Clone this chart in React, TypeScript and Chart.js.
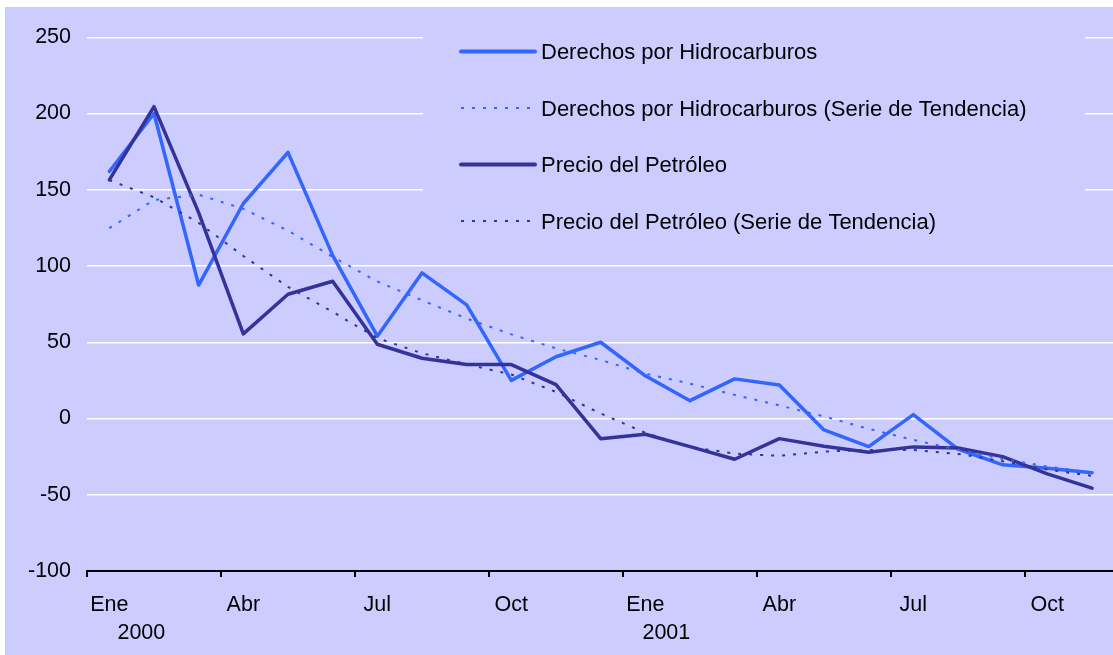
import React, { useEffect, useRef } from "react";
import { Chart, registerables } from "chart.js";

Chart.register(...registerables);

// ---------- data ----------
const monthNames = ["Ene", "Feb", "Mar", "Abr", "May", "Jun", "Jul", "Ago", "Sep", "Oct", "Nov", "Dic"];
const years = ["2000", "2001"];
const categories = years.flatMap((y) => monthNames.map((m) => `${m} ${y}`));

const seriesLabels = [
  "Derechos por Hidrocarburos",
  "Derechos por Hidrocarburos (Serie de Tendencia)",
  "Precio del Petróleo",
  "Precio del Petróleo (Serie de Tendencia)",
];

const derechos = [162, 200, 87.5, 141, 174.5, 107, 54, 95.5, 74.5, 25, 40.5, 50, 28, 11.7, 26, 22, -7.5, -18.4, 2.6, -20, -30.4, -32.6, -35.5, null];
const derechosTendencia = [124.8, 143.3, 146.8, 137.5, 123.2, 106, 89.9, 77.5, 65.6, 55.2, 46, 38.4, 29.4, 22.9, 15.5, 8.6, 1.4, -6.8, -14, -20.5, -26.5, -31.5, -35.5, null];
const precio = [156.5, 204.5, 135, 55.5, 81.5, 90, 48.7, 39.5, 35.4, 35.4, 22.2, -13.2, -10.3, -18.4, -26.7, -13.2, -18.2, -22.1, -18.6, -19.3, -25, -36.3, -45.7, null];
const precioTendencia = [156.4, 145.1, 128.3, 106.6, 86.3, 69.9, 52.7, 42.8, 35.5, 28.9, 17.4, 3.3, -9.4, -18.6, -23, -24.5, -21.7, -20.6, -20.6, -23.2, -28, -33.5, -37.6, null];

const yMin = -100;
const yMax = 250;
const yStep = 50;

// ---------- styles ----------
const BG = "#CCCCFF";
const BLUE = "#3366FF";
const NAVY = "#333399";
const FONT_FAMILY = '"Liberation Sans", Arial, Helvetica, sans-serif';
const FONT_SIZE = 21.5;
const FONT = `${FONT_SIZE}px ${FONT_FAMILY}`;
const LEGEND_FONT = `22px ${FONT_FAMILY}`;
const OX = 5; // canvas offset on page
const OY = 7;
const CANVAS_W = 1154;
const CANVAS_H = 648;
const yearOffsets = [32, 21];

const legendPlugin = {
  id: "boxLegend",
  beforeDatasetsDraw(chart: any) {
    const ctx = chart.ctx;
    ctx.save();
    ctx.fillStyle = BG;
    ctx.fillRect(423 - OX, 18 - OY, 1085 - 423, 245 - 18);
    ctx.restore();
  },
  afterDraw(chart: any) {
    const ctx = chart.ctx;
    chart.data.datasets.forEach((ds: any, i: number) => {
      const y = 51.5 - OY + i * 56.5;
      ctx.save();
      ctx.strokeStyle = ds.borderColor;
      const dashed = ds.borderDash && ds.borderDash.length;
      ctx.lineWidth = dashed ? 2 : 4;
      ctx.lineCap = dashed ? "butt" : "round";
      ctx.setLineDash(dashed ? ds.borderDash : []);
      ctx.beginPath();
      ctx.moveTo(461 - OX, y);
      ctx.lineTo(535 - OX, y);
      ctx.stroke();
      ctx.setLineDash([]);
      ctx.fillStyle = "#000";
      ctx.font = LEGEND_FONT;
      ctx.textAlign = "left";
      ctx.textBaseline = "alphabetic";
      ctx.fillText(ds.label, 541 - OX, y + 7.8);
      ctx.restore();
    });
  },
};

const xLabelPlugin = {
  id: "xLabels",
  afterDraw(chart: any) {
    const ctx = chart.ctx;
    const xs = chart.scales.x;
    ctx.save();
    ctx.fillStyle = "#000";
    ctx.font = FONT;
    ctx.textAlign = "center";
    ctx.textBaseline = "alphabetic";
    categories.forEach((_c, i) => {
      if (i % 3 !== 0) return;
      const x = xs.getPixelForValue(i);
      ctx.fillText(monthNames[i % 12], x, 611 - OY);
      if (i % 12 === 0) {
        const yi = i / 12;
        ctx.fillText(years[yi], x + yearOffsets[yi], 639 - OY);
      }
    });
    ctx.restore();
  },
};

export default function App() {
  const ref = useRef<HTMLCanvasElement>(null);

  useEffect(() => {
    if (!ref.current) return;
    const chart = new Chart(ref.current, {
      type: "line",
      data: {
        labels: categories,
        datasets: [
          {
            label: seriesLabels[0],
            data: derechos,
            borderColor: BLUE,
            backgroundColor: BLUE,
            borderWidth: 3.5,
            borderCapStyle: "round",
            borderJoinStyle: "round",
            pointRadius: 0,
            tension: 0,
            fill: false,
            order: 3,
          },
          {
            label: seriesLabels[1],
            data: derechosTendencia,
            borderColor: BLUE,
            backgroundColor: BLUE,
            borderWidth: 2,
            borderDash: [3, 8],
            pointRadius: 0,
            tension: 0,
            fill: false,
            order: 1,
          },
          {
            label: seriesLabels[2],
            data: precio,
            borderColor: NAVY,
            backgroundColor: NAVY,
            borderWidth: 3.5,
            borderCapStyle: "round",
            borderJoinStyle: "round",
            pointRadius: 0,
            tension: 0,
            fill: false,
            order: 2,
          },
          {
            label: seriesLabels[3],
            data: precioTendencia,
            borderColor: NAVY,
            backgroundColor: NAVY,
            borderWidth: 2,
            borderDash: [3, 8],
            pointRadius: 0,
            tension: 0,
            fill: false,
            order: 0,
          },
        ],
      },
      options: {
        animation: false,
        responsive: false,
        devicePixelRatio: 1,
        layout: { padding: { top: 37.3 - OY, right: 0, bottom: 0, left: 0 } },
        plugins: {
          legend: { display: false },
          tooltip: { enabled: false },
          title: { display: false },
        },
        scales: {
          x: {
            type: "category",
            offset: true,
            grid: {
              display: true,
              offset: true,
              drawOnChartArea: false,
              drawTicks: true,
              tickLength: 6,
              lineWidth: 2,
              color: (ctx: any) => (typeof ctx.index === "number" && ctx.index % 3 === 0 ? "#000" : "rgba(0,0,0,0)"),
            },
            border: { display: true, color: "#000", width: 2 },
            ticks: { display: false, autoSkip: false },
            afterFit: (scale: any) => {
              scale.height = CANVAS_H - (571 - OY);
            },
          },
          y: {
            min: yMin,
            max: yMax,
            ticks: {
              stepSize: yStep,
              color: "#000",
              font: { family: FONT_FAMILY, size: FONT_SIZE },
              padding: 16,
            },
            grid: {
              drawTicks: false,
              lineWidth: 1.5,
              color: (ctx: any) => (ctx.tick && ctx.tick.value === yMin ? "rgba(0,0,0,0)" : "#ffffff"),
            },
            border: { display: false },
            afterFit: (scale: any) => {
              scale.width = 87 - OX;
            },
          },
        },
      },
      plugins: [legendPlugin, xLabelPlugin],
    } as any);
    return () => chart.destroy();
  }, []);

  return (
    <div
      style={{
        position: "fixed",
        left: 0,
        top: 0,
        width: 1113,
        height: 655,
        overflow: "hidden",
        background: "#ffffff",
      }}
    >
      <div style={{ position: "absolute", left: OX, top: OY, right: 0, bottom: 0, background: BG }} />
      <canvas
        ref={ref}
        width={CANVAS_W}
        height={CANVAS_H}
        style={{ position: "absolute", left: OX, top: OY, width: CANVAS_W, height: CANVAS_H }}
      />
    </div>
  );
}
